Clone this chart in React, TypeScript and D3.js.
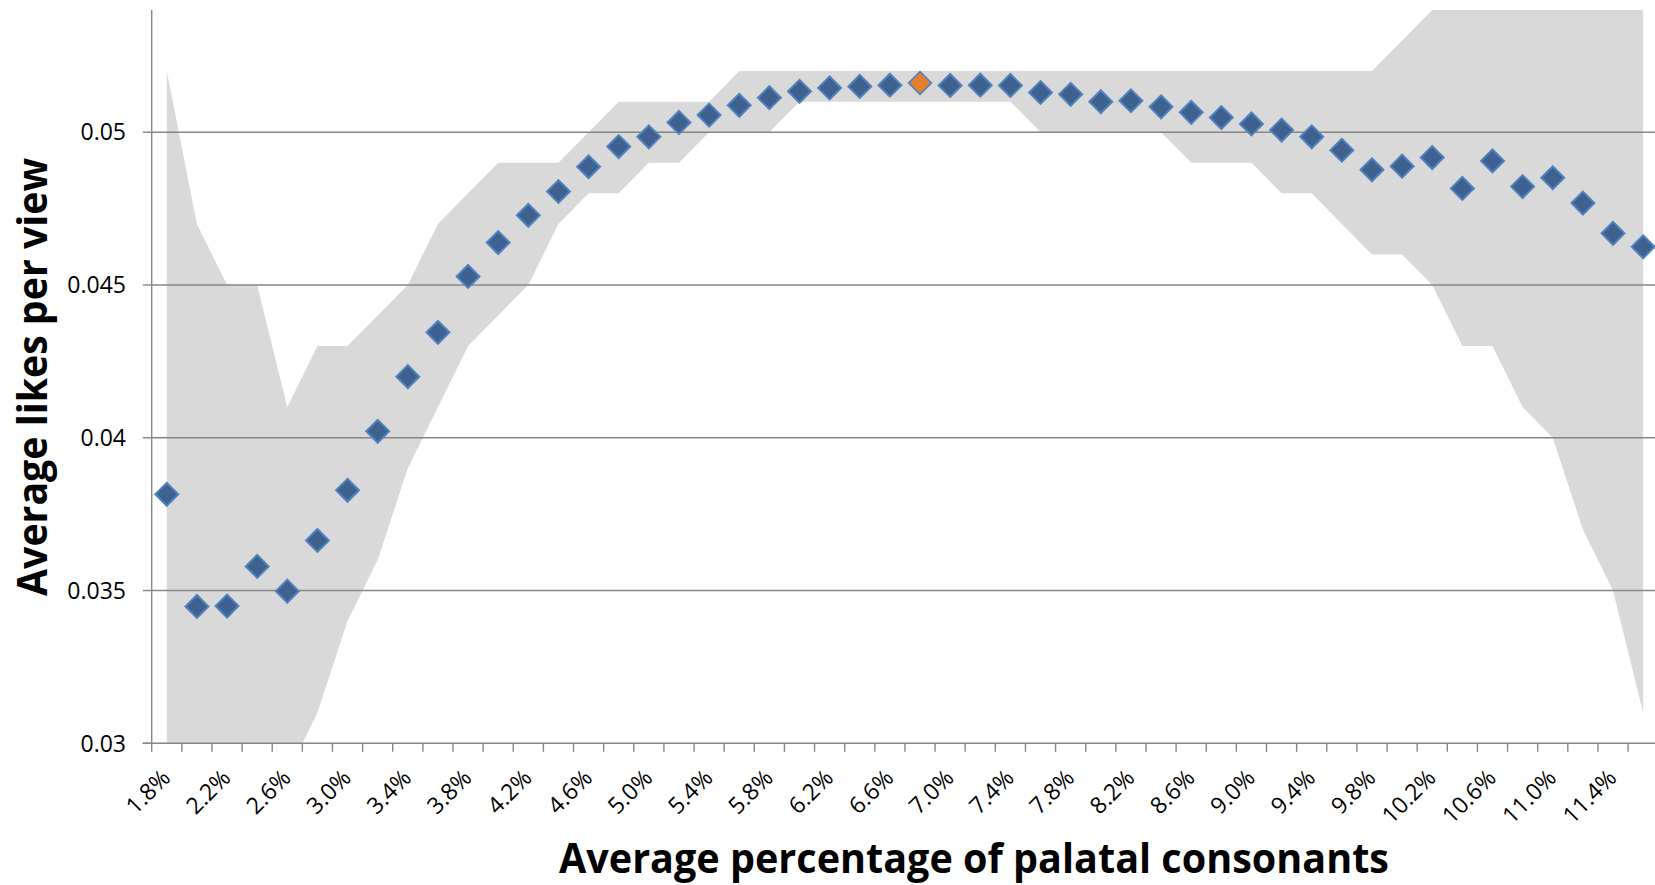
import React from "react";
import * as d3 from "d3";

const categories = [
  "1.8%", "2.0%", "2.2%", "2.4%", "2.6%", "2.8%", "3.0%", "3.2%", "3.4%", "3.6%",
  "3.8%", "4.0%", "4.2%", "4.4%", "4.6%", "4.8%", "5.0%", "5.2%", "5.4%", "5.6%",
  "5.8%", "6.0%", "6.2%", "6.4%", "6.6%", "6.8%", "7.0%", "7.2%", "7.4%", "7.6%",
  "7.8%", "8.0%", "8.2%", "8.4%", "8.6%", "8.8%", "9.0%", "9.2%", "9.4%", "9.6%",
  "9.8%", "10.0%", "10.2%", "10.4%", "10.6%", "10.8%", "11.0%", "11.2%", "11.4%", "11.6%",
];

const avgLikes = [
  0.03815, 0.03448, 0.03449, 0.03579, 0.03498, 0.03664, 0.03828, 0.04021, 0.042, 0.04345,
  0.04528, 0.04639, 0.04728, 0.04806, 0.04887, 0.04953, 0.04985, 0.05032, 0.05056, 0.05088,
  0.05113, 0.05134, 0.05145, 0.0515, 0.05154, 0.05161, 0.05153, 0.05154, 0.05153, 0.0513,
  0.05124, 0.051, 0.05103, 0.05083, 0.05065, 0.05048, 0.05027, 0.05007, 0.04985, 0.04941,
  0.04877, 0.04889, 0.04917, 0.04816, 0.04906, 0.04822, 0.04851, 0.04768, 0.04669, 0.04625,
];

const upperBound = [
  0.052, 0.047, 0.045, 0.045, 0.041, 0.043, 0.043, 0.044, 0.045, 0.047,
  0.048, 0.049, 0.049, 0.049, 0.05, 0.051, 0.051, 0.051, 0.051, 0.052,
  0.052, 0.052, 0.052, 0.052, 0.052, 0.052, 0.052, 0.052, 0.052, 0.052,
  0.052, 0.052, 0.052, 0.052, 0.052, 0.052, 0.052, 0.052, 0.052, 0.052,
  0.052, 0.053, 0.054, 0.054, 0.054, 0.054, 0.054, 0.054, 0.054, 0.054,
];

const lowerBound = [
  0.029, 0.029, 0.029, 0.029, 0.029, 0.031, 0.034, 0.036, 0.039, 0.041,
  0.043, 0.044, 0.045, 0.047, 0.048, 0.048, 0.049, 0.049, 0.05, 0.05,
  0.05, 0.051, 0.051, 0.051, 0.051, 0.051, 0.051, 0.051, 0.051, 0.05,
  0.05, 0.05, 0.05, 0.05, 0.049, 0.049, 0.049, 0.048, 0.048, 0.047,
  0.046, 0.046, 0.045, 0.043, 0.043, 0.041, 0.04, 0.037, 0.035, 0.031,
];

const highlightCategory = "6.8%";

const yTickValues = [0.03, 0.035, 0.04, 0.045, 0.05];
const yTickLabels = ["0.03", "0.035", "0.04", "0.045", "0.05"];

const xTickLabels = [
  "1.8%", "2.2%", "2.6%", "3.0%", "3.4%", "3.8%", "4.2%", "4.6%", "5.0%", "5.4%",
  "5.8%", "6.2%", "6.6%", "7.0%", "7.4%", "7.8%", "8.2%", "8.6%", "9.0%", "9.4%",
  "9.8%", "10.2%", "10.6%", "11.0%", "11.4%",
];

const xTitle = "Average percentage of palatal consonants";
const yTitle = "Average likes per view";

const W = 1655;
const H = 885;
const LEFT = 151.7;
const BAND = 30.13;
const TOP = 10;
const BOTTOM = 743.3;
const RIGHT = LEFT + categories.length * BAND;

const AXIS = "#868686";
const FONT = "'Open Sans', 'Noto Sans', sans-serif";

export default function App() {
  const x = d3.scaleBand<string>().domain(categories).range([LEFT, RIGHT]).padding(0);
  const y = d3.scaleLinear().domain([0.03, 0.054]).range([BOTTOM, TOP]);
  const bw = x.bandwidth();
  const cx = (c: string) => (x(c) as number) + bw / 2;

  const idx = d3.range(categories.length);
  const band = d3
    .area<number>()
    .x((i) => cx(categories[i]))
    .y0((i) => y(lowerBound[i]))
    .y1((i) => y(upperBound[i]))(idx) as string;

  const diamond = d3.symbol().type(d3.symbolSquare).size(262)() as string;

  const boundaries = d3.range(categories.length + 1).map((i) => LEFT + i * bw).filter((v) => v <= W);

  return (
    <svg width={W} height={H} style={{ position: "absolute", left: 0, top: 0, background: "#fff" }}>
      <defs>
        <clipPath id="plot">
          <rect x={LEFT} y={TOP} width={RIGHT - LEFT} height={BOTTOM - TOP} />
        </clipPath>
      </defs>
      <rect x={0} y={0} width={W} height={H} fill="#fff" />
      <path d={band} fill="#d9d9d9" clipPath="url(#plot)" />

      {yTickValues.map((v, i) => (
        <g key={"gy" + i}>
          {i > 0 && <line x1={LEFT} x2={W} y1={y(v)} y2={y(v)} stroke={AXIS} strokeWidth={1.4} />}
          <line x1={LEFT - 9} x2={LEFT} y1={y(v)} y2={y(v)} stroke={AXIS} strokeWidth={1.4} />
          <text
            x={126}
            y={y(v)}
            dy="0.36em"
            textAnchor="end"
            fontFamily={FONT}
            fontSize={23}
            fill="#000"
          >
            {yTickLabels[i]}
          </text>
        </g>
      ))}

      <line x1={LEFT} x2={LEFT} y1={TOP} y2={BOTTOM} stroke={AXIS} strokeWidth={1.4} />
      <line x1={LEFT - 9} x2={W} y1={BOTTOM} y2={BOTTOM} stroke={AXIS} strokeWidth={1.4} />
      {boundaries.map((bx, i) => (
        <line key={"tx" + i} x1={bx} x2={bx} y1={BOTTOM} y2={BOTTOM + 8.5} stroke={AXIS} strokeWidth={1.4} />
      ))}

      {xTickLabels.map((lab) => {
        const px = cx(lab) + 5;
        const py = BOTTOM + 36;
        return (
          <text
            key={"xl" + lab}
            x={px}
            y={py}
            textAnchor="end"
            transform={`rotate(-45, ${px}, ${py})`}
            fontFamily={FONT}
            fontSize={23}
            fill="#000"
          >
            {lab}
          </text>
        );
      })}

      {categories.map((c, i) => {
        const hi = c === highlightCategory;
        return (
          <path
            key={"pt" + c}
            d={diamond}
            transform={`translate(${cx(c)},${y(avgLikes[i])}) rotate(45)`}
            fill={hi ? "#e37e2f" : "#3e6190"}
            stroke="#4f81bd"
            strokeWidth={hi ? 1.6 : 2}
          />
        );
      })}

      <text
        x={974}
        y={873}
        textAnchor="middle"
        fontFamily={FONT}
        fontWeight="bold"
        fontSize={42}
        textLength={830}
        lengthAdjust="spacingAndGlyphs"
        fill="#000"
      >
        {xTitle}
      </text>
      <text
        x={0}
        y={0}
        transform={`translate(47, 377) rotate(-90)`}
        textAnchor="middle"
        fontFamily={FONT}
        fontWeight="bold"
        fontSize={42}
        textLength={438}
        lengthAdjust="spacingAndGlyphs"
        fill="#000"
      >
        {yTitle}
      </text>
    </svg>
  );
}
